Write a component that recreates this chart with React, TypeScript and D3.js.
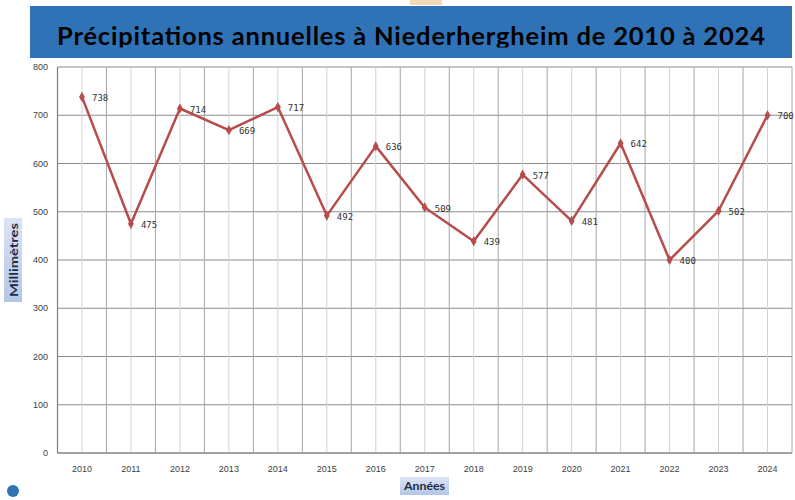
import * as d3 from "d3";

const years = ["2010", "2011", "2012", "2013", "2014", "2015", "2016", "2017", "2018", "2019", "2020", "2021", "2022", "2023", "2024"];
const rainfall = [738, 475, 714, 669, 717, 492, 636, 509, 439, 577, 481, 642, 400, 502, 700];
const yTicks = [0, 100, 200, 300, 400, 500, 600, 700, 800];

const title = "Précipitations annuelles à Niederhergheim de 2010 à 2024";

const W = 795;
const H = 500;
const plot = { left: 57.5, right: 792, top: 67, bottom: 453 };
const lineColor = "#b64c4b";

const App = () => {
  const x = d3.scaleBand<string>().domain(years).range([plot.left, plot.right]);
  const y = d3.scaleLinear().domain([0, 800]).range([plot.bottom, plot.top]);
  const cx = (yr: string) => (x(yr) ?? 0) + x.bandwidth() / 2;

  const line = d3
    .line<number>()
    .x((_, i) => cx(years[i]))
    .y((d) => y(d));

  const diamond = d3.symbol(d3.symbolDiamond, 30)();

  return (
    <div style={{ position: "absolute", left: 0, top: 0 }}>
      <svg width={W} height={H} style={{ display: "block", background: "#fff" }}>
        <defs>
          <clipPath id="titleClip">
            <rect x={0} y={0} width={W} height={47.5} />
          </clipPath>
          <linearGradient id="lblGrad" x1="0" y1="0" x2="0" y2="1">
            <stop offset="0" stopColor="#dbe4f4" />
            <stop offset="1" stopColor="#b4c6e7" />
          </linearGradient>
        </defs>

        {/* title banner */}
        <rect x={410} y={0} width={32} height={5} fill="#f4d8b8" />
        <rect x={30} y={6} width={762} height={52} fill="#2f73b6" />
        <text
          x={57}
          y={45}
          clipPath="url(#titleClip)"
          fontFamily="Lato, sans-serif"
          fontWeight="bold"
          fontSize={25.5}
          fill="#000"
          textLength={708}
          lengthAdjust="spacing"
        >
          {title}
        </text>

        {/* grid: horizontal */}
        {yTicks.map((t) => (
          <line key={"h" + t} x1={plot.left} x2={plot.right} y1={y(t)} y2={y(t)} stroke="#8c8c8c" strokeWidth={1} />
        ))}
        {/* grid: vertical minor (centres) and major (boundaries) */}
        {years.map((yr) => (
          <line key={"vc" + yr} x1={cx(yr)} x2={cx(yr)} y1={plot.top} y2={plot.bottom} stroke="#d2d2d2" strokeWidth={1} />
        ))}
        {years.map((yr) => (
          <line
            key={"vb" + yr}
            x1={(x(yr) ?? 0) + x.bandwidth()}
            x2={(x(yr) ?? 0) + x.bandwidth()}
            y1={plot.top}
            y2={plot.bottom}
            stroke="#a6a6a6"
            strokeWidth={1}
          />
        ))}
        <line x1={plot.left} x2={plot.left} y1={plot.top} y2={plot.bottom} stroke="#7f7f7f" strokeWidth={1.2} />
        <line x1={plot.left} x2={plot.right} y1={plot.bottom} y2={plot.bottom} stroke="#7f7f7f" strokeWidth={1.2} />

        {/* y tick labels */}
        {yTicks.map((t) => (
          <text
            key={"yt" + t}
            x={48}
            y={y(t)}
            dy="0.35em"
            textAnchor="end"
            fontFamily="'Liberation Sans', sans-serif"
            fontSize={9}
            fill="#404040"
          >
            {t}
          </text>
        ))}

        {/* x tick labels */}
        {years.map((yr) => (
          <text
            key={"xt" + yr}
            x={cx(yr)}
            y={472}
            textAnchor="middle"
            fontFamily="'Liberation Sans', sans-serif"
            fontSize={9}
            fill="#404040"
          >
            {yr}
          </text>
        ))}

        {/* series */}
        <path d={line(rainfall) ?? ""} fill="none" stroke={lineColor} strokeWidth={2.5} strokeLinejoin="round" />
        {rainfall.map((v, i) => (
          <path key={"m" + i} d={diamond ?? ""} transform={`translate(${cx(years[i])},${y(v)})`} fill={lineColor} />
        ))}
        {rainfall.map((v, i) => (
          <text
            key={"l" + i}
            x={cx(years[i]) + 10}
            y={y(v) + 1}
            dy="0.35em"
            fontFamily="'DejaVu Sans Mono', monospace"
            fontSize={9}
            fill="#333"
          >
            {v}
          </text>
        ))}

        {/* axis titles */}
        <rect x={4} y={218} width={18} height={84} fill="url(#lblGrad)" />
        <text
          transform="translate(17.5,260) rotate(-90)"
          textAnchor="middle"
          fontFamily="Lato, sans-serif"
          fontWeight="bold"
          fontSize={12}
          fill="#1f2a44"
          textLength={74}
          lengthAdjust="spacingAndGlyphs"
        >
          Millimètres
        </text>
        <rect x={400} y={477} width={49} height={18} fill="url(#lblGrad)" />
        <text
          x={424.5}
          y={490}
          textAnchor="middle"
          fontFamily="Lato, sans-serif"
          fontWeight="bold"
          fontSize={12}
          fill="#1f2a44"
          textLength={41}
          lengthAdjust="spacingAndGlyphs"
        >
          Années
        </text>

        {/* slide bullet */}
        <circle cx={13} cy={491} r={6} fill="#2f73b6" />
      </svg>
    </div>
  );
};

export default App;
